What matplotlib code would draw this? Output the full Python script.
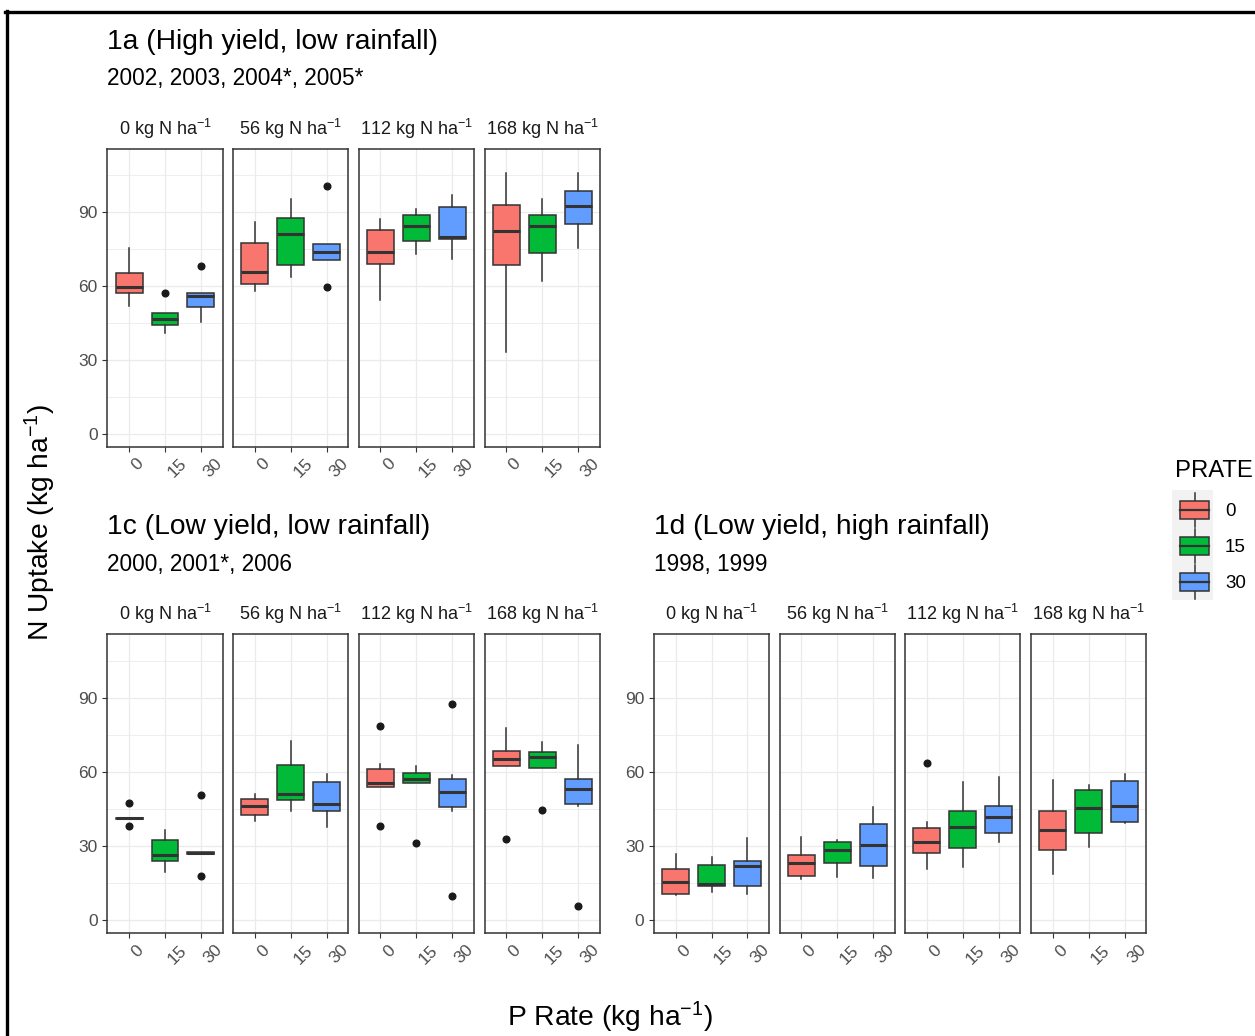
import matplotlib
matplotlib.use("Agg")
import matplotlib.pyplot as plt
from matplotlib.patches import Rectangle
from matplotlib.lines import Line2D

plt.rcParams['font.family'] = ['Liberation Sans', 'DejaVu Sans']
plt.rcParams['mathtext.fontset'] = 'custom'
plt.rcParams['mathtext.rm'] = 'Liberation Sans'
plt.rcParams['mathtext.it'] = 'Liberation Sans:italic'
plt.rcParams['mathtext.bf'] = 'Liberation Sans:bold'
plt.rcParams['mathtext.sf'] = 'Liberation Sans'

# ---------------- data ----------------
prate_levels = ['0', '15', '30']
n_rates = ['0', '56', '112', '168']
prate_colors = ['#F8766D', '#00BA38', '#619CFF']

titles = ['1a (High yield, low rainfall)', '1c (Low yield, low rainfall)', '1d (Low yield, high rainfall)']
subtitles = ['2002, 2003, 2004*, 2005*', '2000, 2001*, 2006', '1998, 1999']

# Group 1a  (rows: N rate, cols: PRATE 0/15/30)
g1a_whislo = [[51.9, 41.1, 45.5], [58.1, 63.8, 70.5], [54.3, 73.0, 70.9], [33.4, 61.9, 75.4]]
g1a_q1 = [[57.0, 44.2, 51.4], [60.8, 68.5, 70.5], [69.1, 78.1, 79.1], [68.4, 73.5, 85.1]]
g1a_med = [[59.5, 46.6, 56.1], [65.7, 81.1, 73.9], [73.9, 84.2, 80.0], [82.4, 84.2, 92.6]]
g1a_q3 = [[65.4, 48.9, 57.3], [77.4, 87.7, 76.9], [82.7, 88.9, 92.2], [92.8, 88.9, 98.5]]
g1a_whishi = [[75.3, 48.9, 57.3], [86.1, 95.5, 76.9], [87.3, 91.1, 96.8], [105.7, 95.5, 105.7]]
g1a_fliers = [[[], [57.0], [68.0]], [[], [], [100.4, 59.7]], [[], [], []], [[], [], []]]

# Group 1c
g1c_whislo = [[41.0, 19.5, 27.0], [40.3, 44.1, 37.9], [54.0, 55.7, 44.4], [62.3, 61.6, 46.2]]
g1c_q1 = [[41.0, 24.2, 27.0], [42.5, 48.7, 44.4], [54.0, 55.7, 45.8], [62.3, 61.6, 47.1]]
g1c_med = [[41.3, 26.5, 27.3], [46.1, 51.1, 47.2], [55.6, 57.3, 51.8], [65.4, 66.0, 53.1]]
g1c_q3 = [[41.6, 32.5, 27.6], [49.0, 63.0, 56.0], [61.1, 59.8, 57.3], [68.6, 68.0, 57.2]]
g1c_whishi = [[41.6, 36.6, 27.6], [51.1, 72.6, 59.2], [63.3, 62.4, 58.8], [77.8, 72.0, 70.9]]
g1c_fliers = [[[47.6, 38.0], [], [50.8, 17.9]], [[], [], []],
              [[78.7, 38.1], [31.2], [87.7, 9.7]], [[33.1], [44.5], [5.9]]]

# Group 1d
g1d_whislo = [[10.1, 11.4, 10.8], [16.7, 17.7, 17.1], [20.8, 21.5, 31.6], [18.8, 29.6, 39.2]]
g1d_q1 = [[10.8, 13.9, 13.9], [17.9, 23.4, 22.2], [27.3, 29.2, 35.5], [28.5, 35.5, 39.9]]
g1d_med = [[15.7, 14.9, 21.9], [23.3, 28.5, 30.3], [31.6, 37.8, 41.7], [36.6, 45.4, 46.1]]
g1d_q3 = [[20.6, 22.3, 24.2], [26.6, 31.9, 38.8], [37.4, 44.4, 46.4], [44.4, 52.7, 56.5]]
g1d_whishi = [[26.9, 25.6, 33.4], [33.9, 32.5, 46.0], [39.7, 56.0, 58.1], [56.7, 54.8, 59.1]]
g1d_fliers = [[[], [], []], [[], [], []], [[63.5], [], []], [[], [], []]]

yticks = [0, 30, 60, 90]
yminor = [15, 45, 75, 105]

groups = [
    (g1a_whislo, g1a_q1, g1a_med, g1a_q3, g1a_whishi, g1a_fliers),
    (g1c_whislo, g1c_q1, g1c_med, g1c_q3, g1c_whishi, g1c_fliers),
    (g1d_whislo, g1d_q1, g1d_med, g1d_q3, g1d_whishi, g1d_fliers),
]

# ---------------- layout ----------------
W, H = 1255, 1036
fig = plt.figure(figsize=(W / 100, H / 100), dpi=100)

def px_axes(x0, y0, x1, y1):
    return fig.add_axes([x0 / W, 1 - y1 / H, (x1 - x0) / W, (y1 - y0) / H])

panel_w = 115
gap = 10.7
group_pos = [(107.5, 148.5, 446.7), (107.5, 634, 933.3), (654, 634, 933.3)]
title_y = [(42, 79, 129), (527, 565, 614), (527, 565, 614)]

EDGE = '#333333'
GRID = '#EBEBEB'
SUP = r'$^{\mathsf{-}1}$'

for gi, (gx, gy0, gy1) in enumerate(group_pos):
    lo, q1, med, q3, hi, fl = groups[gi]
    ty, sy, sty = title_y[gi]
    fig.text(gx / W, 1 - ty / H, titles[gi], fontsize=20.3, ha='left', va='center', color='black')
    fig.text(gx / W, 1 - sy / H, subtitles[gi], fontsize=16.3, ha='left', va='center', color='black')
    for ni in range(4):
        x0 = gx + ni * (panel_w + gap)
        ax = px_axes(x0, gy0, x0 + panel_w, gy1)
        stats = []
        for pi in range(3):
            stats.append(dict(whislo=lo[ni][pi], q1=q1[ni][pi], med=med[ni][pi],
                              q3=q3[ni][pi], whishi=hi[ni][pi], fliers=fl[ni][pi]))
        bp = ax.bxp(stats, positions=[1, 2, 3], widths=0.75, patch_artist=True,
                    showcaps=False,
                    boxprops=dict(edgecolor=EDGE, linewidth=1.1),
                    whiskerprops=dict(color=EDGE, linewidth=1.1),
                    medianprops=dict(color=EDGE, linewidth=2.2, solid_capstyle='butt'),
                    flierprops=dict(marker='o', markerfacecolor='#1a1a1a',
                                    markeredgecolor='#1a1a1a', markersize=4.8),
                    zorder=3)
        for patch, c in zip(bp['boxes'], prate_colors):
            patch.set_facecolor(c)
        ax.set_xlim(0.4, 3.6)
        ax.set_ylim(-5.2, 115.8)
        ax.set_xticks([1, 2, 3])
        ax.set_yticks(yticks)
        ax.set_yticks(yminor, minor=True)
        ax.grid(True, which='major', color=GRID, linewidth=0.9, zorder=0)
        ax.grid(True, which='minor', axis='y', color=GRID, linewidth=0.6, zorder=0)
        ax.set_axisbelow(True)
        for s in ax.spines.values():
            s.set_color(EDGE)
            s.set_linewidth(1.1)
        ax.tick_params(axis='both', which='major', length=3.5, width=0.8, color=EDGE,
                       labelcolor='#4D4D4D', labelsize=12.5)
        ax.tick_params(axis='y', which='minor', length=0)
        ax.set_xticklabels(prate_levels, rotation=45, ha='left', va='top')
        ax.tick_params(axis='x', pad=3)
        if ni == 0:
            ax.set_yticklabels([str(v) for v in yticks])
        else:
            ax.tick_params(axis='y', labelleft=False, left=False)
        fig.text((x0 + panel_w / 2) / W, 1 - sty / H, n_rates[ni] + ' kg N ha' + SUP,
                 fontsize=13.0, ha='center', va='center', color='#1A1A1A')

# axis titles
fig.text(40 / W, 1 - 522 / H, 'N Uptake (kg ha' + SUP + ')', rotation=90, fontsize=20.3,
         ha='center', va='center')
fig.text(610 / W, 1 - 1017 / H, 'P Rate (kg ha' + SUP + ')', fontsize=20.3,
         ha='center', va='center')

# legend
fig.text(1175 / W, 1 - 471 / H, 'PRATE', fontsize=17.2, ha='left', va='center')
lax = px_axes(1172, 490, 1213, 600)
lax.set_xlim(1172, 1213)
lax.set_ylim(600, 490)
lax.axis('off')
lax.add_patch(Rectangle((1172, 490), 41, 110, facecolor='#F2F2F2', edgecolor='none'))
for k, (lab, c) in enumerate(zip(prate_levels, prate_colors)):
    cy = 510 + k * 36
    lax.add_line(Line2D([1195, 1195], [cy - 17, cy + 17], color=EDGE, lw=1.1))
    lax.add_patch(Rectangle((1180, cy - 9), 29, 18, facecolor=c, edgecolor=EDGE, lw=1.1, zorder=3))
    lax.add_line(Line2D([1180, 1209], [cy, cy], color=EDGE, lw=1.6, zorder=4))
    fig.text(1225 / W, 1 - (cy + 1) / H, lab, fontsize=13.5, ha='left', va='center')

# outer frame (top and left edges)
fig.add_artist(Line2D([6.5 / W, 6.5 / W], [0, 1 - 11 / H], color='black', lw=2.4,
                      transform=fig.transFigure))
fig.add_artist(Line2D([5 / W, 1], [1 - 11.5 / H, 1 - 11.5 / H], color='black', lw=2.4,
                      transform=fig.transFigure))

fig.savefig('out.png', dpi=100)
